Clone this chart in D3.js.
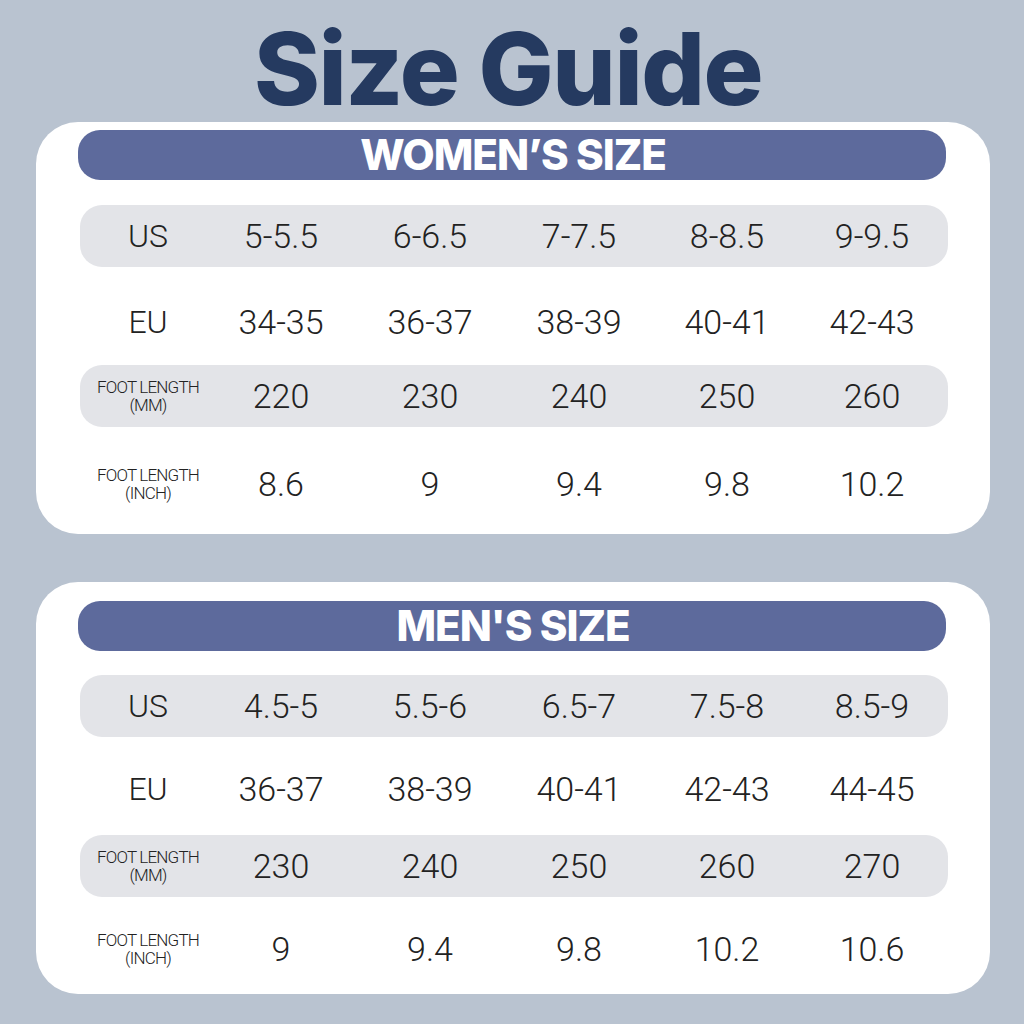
<!DOCTYPE html>
<html><head><meta charset="utf-8">
<script src="https://cdn.jsdelivr.net/npm/d3@7"></script>
<style>body{margin:0;background:#b9c3d0}</style></head>
<body><svg id="c" width="1024" height="1024"></svg>
<script>
const title = "Size Guide";
const sizeCols = ["c1","c2","c3","c4","c5"];
const rowLabels = ["US","EU","FOOT LENGTH\n(MM)","FOOT LENGTH\n(INCH)"];
const womenTitle = "WOMEN\u2019S SIZE";
const womenUS = ["5-5.5","6-6.5","7-7.5","8-8.5","9-9.5"];
const womenEU = ["34-35","36-37","38-39","40-41","42-43"];
const womenMM = ["220","230","240","250","260"];
const womenInch = ["8.6","9","9.4","9.8","10.2"];
const menTitle = "MEN'S SIZE";
const menUS = ["4.5-5","5.5-6","6.5-7","7.5-8","8.5-9"];
const menEU = ["36-37","38-39","40-41","42-43","44-45"];
const menMM = ["230","240","250","260","270"];
const menInch = ["9","9.4","9.8","10.2","10.6"];

const svg = d3.select("#c");
svg.append("rect").attr("width",1024).attr("height",1024).attr("fill","#b9c3d0");
svg.append("text").attr("x",508).attr("y",105).attr("text-anchor","middle")
  .attr("font-family","Inter, 'Noto Sans', sans-serif").attr("font-weight",800)
  .attr("font-size",100).attr("fill","#253a60").attr("letter-spacing",-1.5).text(title);

const x = d3.scalePoint().domain(["label",...sizeCols]).range([148,872]);
const xs = {label:148,c1:281,c2:430,c3:579,c4:727,c5:872};

function panel(top, headY, centers, head, rows){
  const g = svg.append("g").attr("transform",`translate(0,${top})`);
  g.append("rect").attr("x",36).attr("y",0).attr("width",954).attr("height",412).attr("rx",42).attr("fill","#fff");
  g.append("rect").attr("x",78).attr("y",headY).attr("width",868).attr("height",50).attr("rx",22).attr("fill","#5d6a9c");
  g.append("text").attr("x",513).attr("y",headY+40).attr("text-anchor","middle")
    .attr("font-family","Inter, 'Noto Sans', sans-serif").attr("font-weight",800).attr("font-size",42)
    .attr("fill","#fff").attr("letter-spacing",-1).text(head);
  rows.forEach((vals,i)=>{
    const yc = centers[i];
    if(i%2===0) g.append("rect").attr("x",80).attr("y",yc-31).attr("width",868).attr("height",62).attr("rx",22).attr("fill","#e3e4e8");
    const lab = rowLabels[i].split("\n");
    if(lab.length===1){
      g.append("text").attr("x",xs.label).attr("y",yc+11).attr("text-anchor","middle")
       .attr("font-family","Roboto, sans-serif").attr("font-weight",300).attr("font-size",32).attr("fill","#222").text(lab[0]);
    } else {
      lab.forEach((l,k)=>g.append("text").attr("x",xs.label).attr("y",yc-3+k*18).attr("text-anchor","middle")
       .attr("font-family","Roboto, sans-serif").attr("font-weight",300).attr("font-size",17).attr("letter-spacing",-0.8).attr("fill","#222").text(l));
    }
    vals.forEach((v,j)=>g.append("text").attr("x",x(sizeCols[j])===undefined?0:xs[sizeCols[j]]).attr("y",yc+12).attr("text-anchor","middle")
       .attr("font-family","Roboto, sans-serif").attr("font-weight",300).attr("font-size",34).attr("fill","#222").text(v));
  });
}
panel(122, 8, [114,200,274,362], womenTitle, [womenUS,womenEU,womenMM,womenInch]);
panel(582, 19, [124,207,284,367], menTitle, [menUS,menEU,menMM,menInch]);
</script></body></html>
